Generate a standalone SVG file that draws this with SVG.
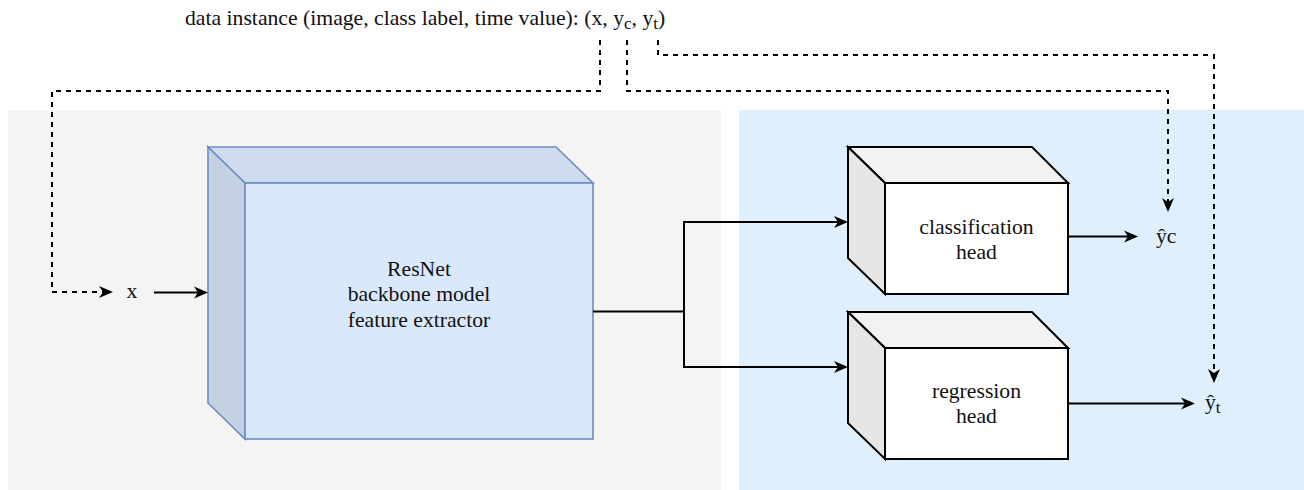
<svg xmlns="http://www.w3.org/2000/svg" width="1304" height="490" viewBox="0 0 1304 490">
  <style>
    .t { font-family: "Liberation Serif", "Times New Roman", serif; font-size: 21.7px; fill: #111; }
    .c { text-anchor: middle; }
    .ln { fill: none; stroke: #000; stroke-width: 2; }
    .dash { stroke-dasharray: 5 5; }
    .head { stroke: #000; stroke-width: 2; stroke-linejoin: miter; }
    .bb { stroke: #6c8ebf; stroke-width: 1.6; }
  </style>
  <defs>
    <marker id="arr" markerUnits="userSpaceOnUse" markerWidth="16" markerHeight="14" refX="4" refY="6" orient="auto" overflow="visible">
      <path d="M0,0 L14,6 L0,12 L4,6 Z" fill="#000"/>
    </marker>
  </defs>
  <rect width="1304" height="490" fill="#ffffff"/>

  <g id="panel-left"><rect x="8" y="110" width="713" height="380" fill="#f4f4f4"/></g>
  <g id="panel-right"><rect x="739" y="110" width="565" height="380" fill="#dfeffc"/></g>

  <g id="title">
    <text class="t" x="185" y="25">data instance (image, class label, time value): (x, y<tspan font-size="17" dy="4">c</tspan><tspan dy="-4">, y</tspan><tspan font-size="17" dy="4">t</tspan><tspan dy="-4">)</tspan></text>
  </g>

  <g id="backbone">
    <polygon class="bb" points="208,147 556,147 593,183 245,183" fill="#cfdcef"/>
    <polygon class="bb" points="208,147 245,183 245,439 208,403" fill="#c4d1e3"/>
    <rect class="bb" x="245" y="183" width="348" height="256" fill="#dae8fc"/>
    <text class="t c" x="419" y="276">ResNet</text>
    <text class="t c" x="419" y="301.3">backbone model</text>
    <text class="t c" x="419" y="326.6">feature extractor</text>
  </g>

  <g id="classification-head">
    <polygon class="head" points="848,147 1032,147 1068,183 885,183" fill="#f2f2f2"/>
    <polygon class="head" points="848,147 885,183 885,294 848,258" fill="#e6e6e6"/>
    <rect class="head" x="885" y="183" width="183" height="111" fill="#ffffff"/>
    <text class="t c" x="976.5" y="234.3">classification</text>
    <text class="t c" x="976.5" y="259">head</text>
  </g>

  <g id="regression-head">
    <polygon class="head" points="848,312 1032,312 1068,348 885,348" fill="#f2f2f2"/>
    <polygon class="head" points="848,312 885,348 885,459 848,423" fill="#e6e6e6"/>
    <rect class="head" x="885" y="348" width="183" height="111" fill="#ffffff"/>
    <text class="t c" x="976.5" y="398.3">regression</text>
    <text class="t c" x="976.5" y="423.3">head</text>
  </g>

  <g id="label-x"><text class="t c" x="132" y="297.5">x</text></g>
  <g id="label-yc"><text class="t" x="1156" y="243">ŷc</text></g>
  <g id="label-yt"><text class="t" x="1205" y="409">ŷ<tspan font-size="17" dy="4">t</tspan></text></g>

  <g id="connectors">
    <path class="ln dash" d="M600,40 V91 H52 V292 H103" marker-end="url(#arr)"/>
    <path class="ln dash" d="M627,40 V91 H1168 V202" marker-end="url(#arr)"/>
    <path class="ln dash" d="M658,40 V55 H1214 V373" marker-end="url(#arr)"/>
    <path class="ln" d="M154,292.5 H198" marker-end="url(#arr)"/>
    <path class="ln" d="M593,311.5 H684 V222 H838" marker-end="url(#arr)"/>
    <path class="ln" d="M684,311.5 V367 H838" marker-end="url(#arr)"/>
    <path class="ln" d="M1068,236.5 H1128" marker-end="url(#arr)"/>
    <path class="ln" d="M1068,403.5 H1185" marker-end="url(#arr)"/>
  </g>
</svg>
